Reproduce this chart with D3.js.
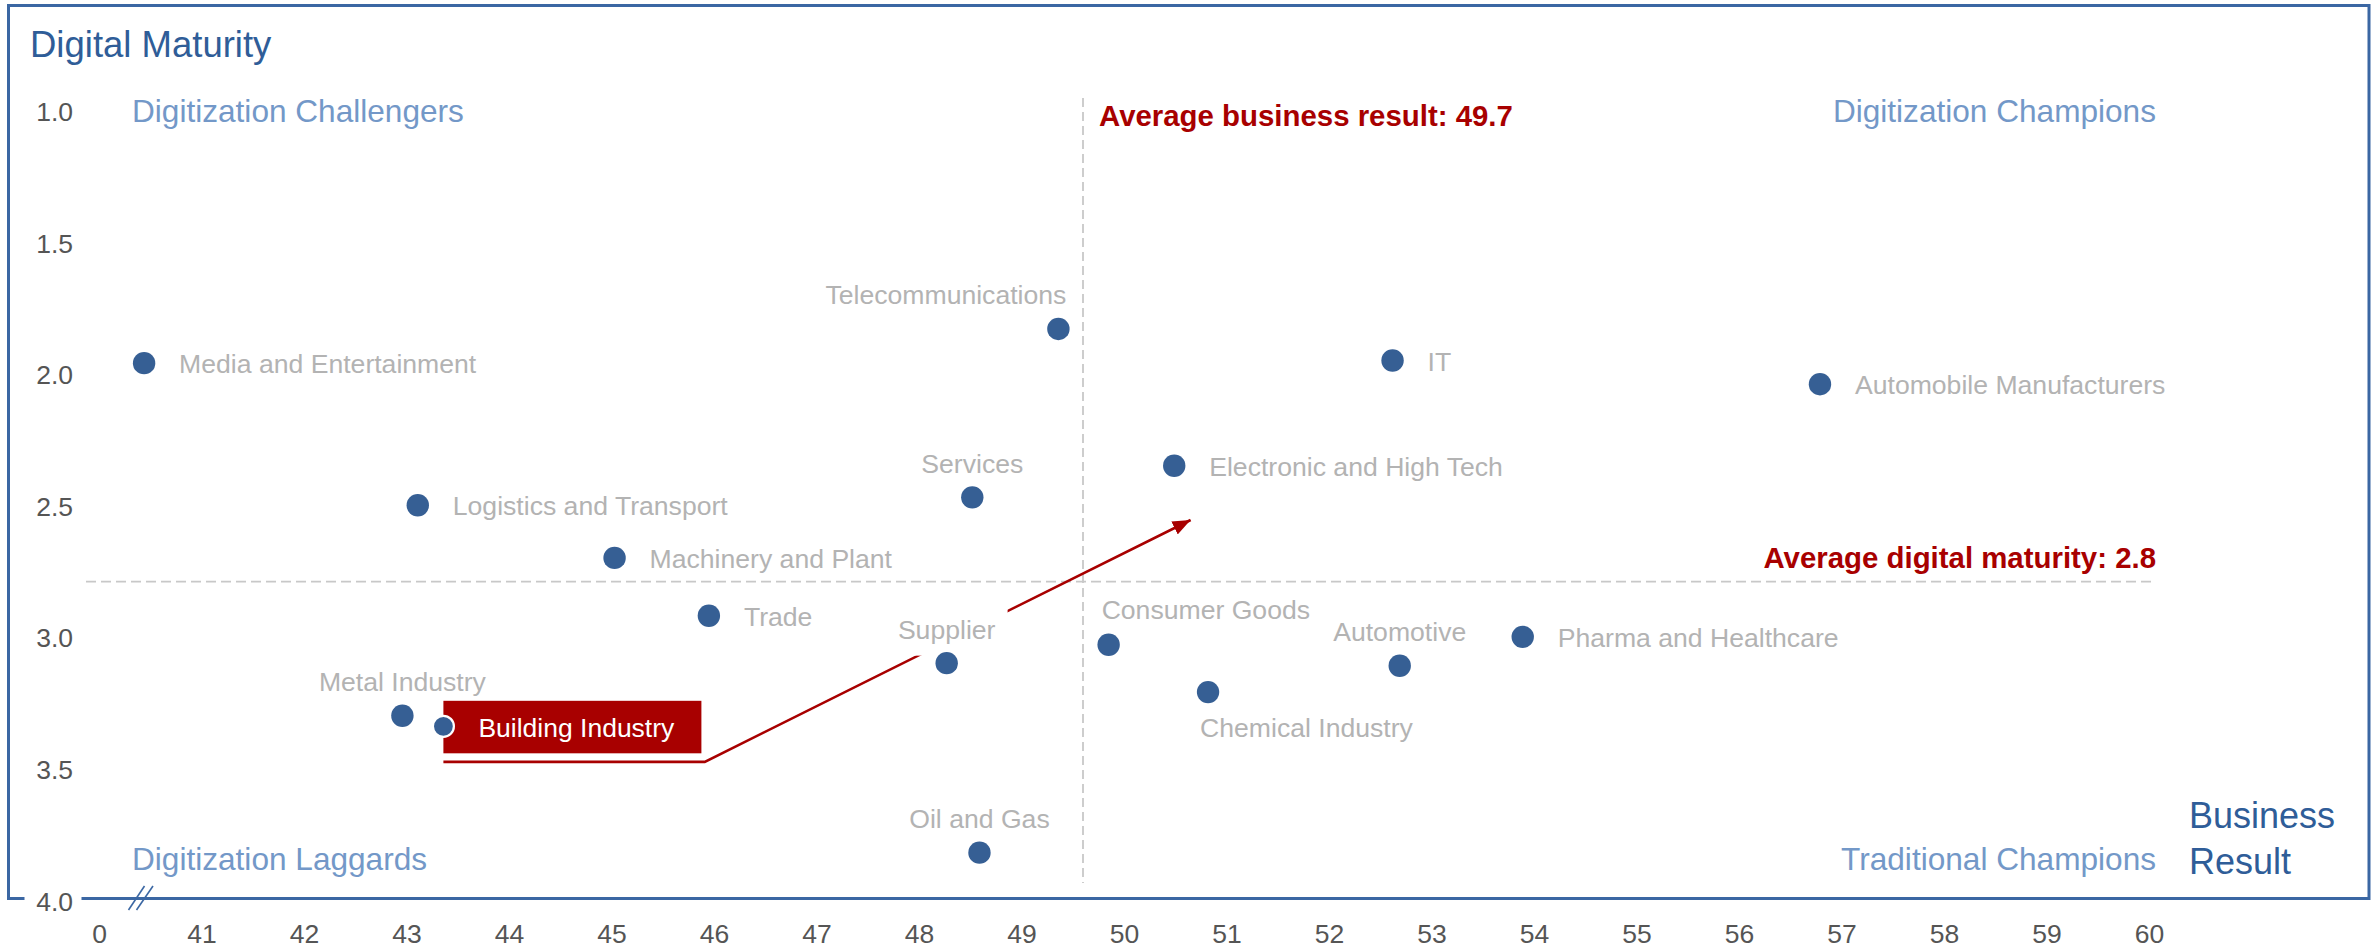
<!DOCTYPE html>
<html><head><meta charset="utf-8">
<script src="https://cdn.jsdelivr.net/npm/d3@7"></script>
<style>
html,body{margin:0;padding:0;background:#fff;overflow:hidden;}
svg text{font-family:"Liberation Sans",Arial,Helvetica,sans-serif;}
</style></head><body>
<svg id="chart" width="2379" height="950"></svg>
<script>
// ---------------- data ----------------
const sectors = ["Media and Entertainment","Telecommunications","IT","Automobile Manufacturers","Services","Electronic and High Tech","Logistics and Transport","Machinery and Plant","Trade","Supplier","Consumer Goods","Chemical Industry","Automotive","Pharma and Healthcare","Metal Industry","Building Industry","Oil and Gas"];
const businessResult = [40.44,49.36,52.62,56.79,48.52,50.49,43.11,45.03,45.95,48.27,49.85,50.82,52.69,53.89,42.96,43.36,48.59];
const digitalMaturity = [1.96,1.83,1.95,2.04,2.47,2.35,2.50,2.70,2.92,3.10,3.03,3.21,3.11,3.00,3.30,3.34,3.82];
const xTickValues = [40,41,42,43,44,45,46,47,48,49,50,51,52,53,54,55,56,57,58,59,60];
const xTickLabels = ["0","41","42","43","44","45","46","47","48","49","50","51","52","53","54","55","56","57","58","59","60"];
const yTickValues = [1.0,1.5,2.0,2.5,3.0,3.5,4.0];
const yTickLabels = ["1.0","1.5","2.0","2.5","3.0","3.5","4.0"];
const avgBusinessLine = 49.6;
const avgBusinessText = "Average business result: 49.7";
const avgMaturityLine = 2.79;
const avgMaturityText = "Average digital maturity: 2.8";
const highlightSector = "Building Industry";
const arrowPath = [[43.36,3.475],[45.91,3.475],[50.65,2.556]];
const quadrantNames = ["Digitization Challengers","Digitization Champions","Digitization Laggards","Traditional Champions"];
const yTitle = "Digital Maturity";
const xTitle = ["Business","Result"];

// ---------------- layout / style ----------------
const C = {
  frame:"#3b67a3", title:"#2f5d98", quad:"#7398c8", point:"#365f94",
  label:"#b3b3b3", tick:"#555555", red:"#a80000", dash:"#c8c8c8"
};
const labelPlacement = {
  "Telecommunications":"aboveEnd","Services":"above","Supplier":"above","Metal Industry":"above",
  "Automotive":"above","Oil and Gas":"above","Consumer Goods":"aboveStart","Chemical Industry":"belowStart"
};

const svg = d3.select("#chart");
const x = d3.scaleLinear().domain([40,60]).range([99,2149]);
const y = d3.scaleLinear().domain([1,4]).range([110.5,900]);

const data = sectors.map((s,i)=>({name:s, bx:businessResult[i], dm:digitalMaturity[i]}));

// frame (bottom edge doubles as x axis line)
svg.append("path")
  .attr("d",`M24.5,898.5 L8.5,898.5 L8.5,5.5 L2369,5.5 L2369,898.5 L81.5,898.5`)
  .attr("fill","none").attr("stroke",C.frame).attr("stroke-width",3);

// axis break marks
const bx0 = x(40);
[[29.5,45.5],[37.5,54]].forEach(([a,b])=>{
  svg.append("line").attr("x1",bx0+a).attr("y1",910).attr("x2",bx0+b).attr("y2",886)
    .attr("stroke",C.frame).attr("stroke-width",1.6);
});

// axes
const xAxis = svg.append("g").attr("transform",`translate(0,${y(4)})`)
  .call(d3.axisBottom(x).tickValues(xTickValues).tickSize(0).tickPadding(24.5)
    .tickFormat((d,i)=>xTickLabels[i]));
xAxis.select(".domain").remove();
xAxis.selectAll("text").attr("fill",C.tick).style("font-size","26.5px").style("font-family",'"Liberation Sans",Arial,sans-serif');

const yAxis = svg.append("g").attr("transform",`translate(${x(40)},0)`)
  .call(d3.axisLeft(y).tickValues(yTickValues).tickSize(0).tickPadding(26)
    .tickFormat((d,i)=>yTickLabels[i]));
yAxis.select(".domain").remove();
yAxis.selectAll("text").attr("fill",C.tick).attr("dy","0.38em").style("font-size","26.5px").style("font-family",'"Liberation Sans",Arial,sans-serif');

// titles
svg.append("text").attr("x",30).attr("y",57).attr("fill",C.title).style("font-size","36.5px").text(yTitle);
svg.append("text").attr("x",x(60)+40).attr("y",828).attr("fill",C.title).style("font-size","36px").text(xTitle[0]);
svg.append("text").attr("x",x(60)+40).attr("y",874).attr("fill",C.title).style("font-size","36px").text(xTitle[1]);

// quadrant labels
const qx0 = x(40)+33, qx1 = x(60)+7;
const qfs = "31.6px";
svg.append("text").attr("x",qx0).attr("y",y(1)+11.5).attr("fill",C.quad).style("font-size",qfs).text(quadrantNames[0]);
svg.append("text").attr("x",qx1).attr("y",y(1)+11.5).attr("text-anchor","end").attr("fill",C.quad).style("font-size",qfs).text(quadrantNames[1]);
svg.append("text").attr("x",qx0).attr("y",y(4)-30).attr("fill",C.quad).style("font-size",qfs).text(quadrantNames[2]);
svg.append("text").attr("x",qx1).attr("y",y(4)-30).attr("text-anchor","end").attr("fill",C.quad).style("font-size",qfs).text(quadrantNames[3]);

// average lines
svg.append("line").attr("x1",x(avgBusinessLine)).attr("x2",x(avgBusinessLine))
  .attr("y1",y(1)-12.5).attr("y2",y(4)-17).attr("stroke",C.dash).attr("stroke-width",1.8).attr("stroke-dasharray","9,5");
svg.append("line").attr("x1",x(40)-13).attr("x2",x(60)+7)
  .attr("y1",y(avgMaturityLine)).attr("y2",y(avgMaturityLine)).attr("stroke",C.dash).attr("stroke-width",1.8).attr("stroke-dasharray","10,5");
svg.append("text").attr("x",x(avgBusinessLine)+16).attr("y",y(1)+15.5).attr("fill",C.red)
  .style("font-size","29.4px").style("font-weight","bold").text(avgBusinessText);
svg.append("text").attr("x",x(60)+7).attr("y",y(avgMaturityLine)-14).attr("text-anchor","end").attr("fill",C.red)
  .style("font-size","29.4px").style("font-weight","bold").text(avgMaturityText);

// arrow
const defs = svg.append("defs");
defs.append("marker").attr("id","arrowhead").attr("viewBox","0 0 18 14.4").attr("refX",18).attr("refY",7.2)
  .attr("markerWidth",18).attr("markerHeight",14.4).attr("markerUnits","userSpaceOnUse").attr("orient","auto")
  .append("path").attr("d","M0,0 L18,7.2 L0,14.4 Z").attr("fill",C.red);
svg.append("path")
  .attr("d",d3.line().x(d=>x(d[0])).y(d=>y(d[1]))(arrowPath))
  .attr("fill","none").attr("stroke",C.red).attr("stroke-width",2.6).attr("marker-end","url(#arrowhead)");

// labels + points
const fs = 26.6;
const labelG = svg.append("g");
data.filter(d=>d.name!==highlightSector).forEach(d=>{
  const cx = x(d.bx), cy = y(d.dm);
  const p = labelPlacement[d.name] || "right";
  let tx=cx+35, ty=cy+10, anchor="start";
  if(p==="above"){tx=cx; ty=cy-24.5; anchor="middle";}
  else if(p==="aboveEnd"){tx=cx+8; ty=cy-24.5; anchor="end";}
  else if(p==="aboveStart"){tx=cx-7; ty=cy-25.5; anchor="start";}
  else if(p==="belowStart"){tx=cx-8; ty=cy+45; anchor="start";}
  const t = labelG.append("text").attr("x",tx).attr("y",ty).attr("text-anchor",anchor)
    .attr("fill",C.label).style("font-size",fs+"px").text(d.name);
  if(d.name==="Supplier"){
    const b = t.node().getBBox();
    labelG.insert("rect","text").attr("x",b.x-5).attr("y",b.y-11).attr("width",b.width+17).attr("height",b.height+22).attr("fill","#fff");
  }
});

svg.append("g").selectAll("circle").data(data.filter(d=>d.name!==highlightSector)).join("circle")
  .attr("cx",d=>x(d.bx)).attr("cy",d=>y(d.dm)).attr("r",11.2).attr("fill",C.point);

// highlighted sector
const hd = data.find(d=>d.name===highlightSector);
const hx = x(hd.bx), hy = y(hd.dm);
svg.append("rect").attr("x",hx).attr("y",hy-25.5).attr("width",258).attr("height",52.5).attr("fill",C.red);
svg.append("text").attr("x",hx+35).attr("y",hy+10.5).attr("fill","#fff").style("font-size","26.5px").text(hd.name);
svg.append("circle").attr("cx",hx).attr("cy",hy).attr("r",10.5).attr("fill",C.point).attr("stroke","#fff").attr("stroke-width",2.2);
</script>
</body></html>
